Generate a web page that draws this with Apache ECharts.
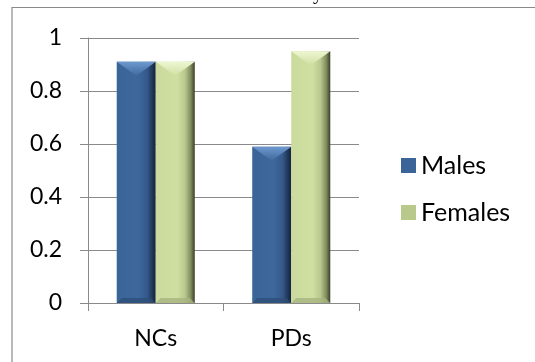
<!DOCTYPE html>
<html>
<head>
<meta charset="utf-8">
<script src="https://cdn.jsdelivr.net/npm/echarts@6/dist/echarts.min.js"></script>
<style>
  html, body { margin: 0; padding: 0; background: #ffffff; }
  #chart { width: 535px; height: 362px; }
</style>
</head>
<body>
<div id="chart"></div>
<script>
// Group labels and proportions per sex
const categories = ['NCs', 'PDs'];
const males = [0.91, 0.59];
const females = [0.91, 0.95];
const seriesNames = ['Males', 'Females'];

const FONT = 'Lato, "Open Sans", sans-serif';
const GRAY = '#8a8a8a';

// Bevelled bar look: horizontal body shading, light top facet, darker foot facet
const palettes = {
  Males: {
    body: [[0, '#3b6598'], [0.55, '#3e689b'], [0.78, '#34598a'], [0.9, '#223a5b'], [1, '#14233a']],
    top: ['#6e99cf', '#3f6a9e'],
    foot: '#2e4f78',
    legend: '#3b6598'
  },
  Females: {
    body: [[0, '#cbdb9d'], [0.55, '#cfdfa2'], [0.75, '#b9c88e'], [0.9, '#7f8b5d'], [1, '#383f26']],
    top: ['#eef7d2', '#cfdfa2'],
    foot: '#a6b47e',
    legend: '#b9c98c'
  }
};

function grad(stops) {
  return new echarts.graphic.LinearGradient(0, 0, 1, 0,
    stops.map(s => ({ offset: s[0], color: s[1] })));
}

function makeRender(name, slot) {
  const p = palettes[name];
  return function (params, api) {
    const ci = api.value(0);
    const v = api.value(1);
    const base = api.coord([ci, 0]);
    const top = api.coord([ci, v]);
    const band = api.size([1, 0])[0];
    const w = band * 0.288;
    const x = base[0] - w + slot * w;
    const y0 = top[1];
    const y1 = base[1];
    const h = y1 - y0;
    const tv = Math.min(14, h / 2);
    const fb = Math.min(5, h / 4);
    return {
      type: 'group',
      children: [
        { type: 'rect', shape: { x: x, y: y0, width: w, height: h },
          style: { fill: grad(p.body) } },
        { type: 'polygon',
          shape: { points: [[x, y0], [x + w, y0], [x + w * 0.5, y0 + tv]] },
          style: { fill: new echarts.graphic.LinearGradient(0, 0, 0, 1, [
            { offset: 0, color: p.top[0] }, { offset: 1, color: p.top[1] }]) } },
        { type: 'polygon',
          shape: { points: [[x, y1], [x + w, y1], [x + w - fb, y1 - fb], [x + fb, y1 - fb]] },
          style: { fill: p.foot, opacity: 0.8 } }
      ]
    };
  };
}

const option = {
  animation: false,
  backgroundColor: '#ffffff',
  textStyle: { fontFamily: FONT },
  grid: { left: 88, right: 176, top: 38, bottom: 59, containLabel: false },
  legend: {
    orient: 'vertical',
    left: 401,
    top: 153,
    padding: 0,
    itemWidth: 15,
    itemHeight: 15,
    itemGap: 22,
    icon: 'rect',
    textStyle: { fontFamily: FONT, fontSize: 25, lineHeight: 24, color: '#000000' },
    data: seriesNames.map(n => ({ name: n, itemStyle: { color: palettes[n].legend } }))
  },
  xAxis: {
    type: 'category',
    data: categories,
    boundaryGap: true,
    axisLine: { lineStyle: { color: GRAY, width: 1 } },
    axisTick: { show: true, length: 8, alignWithLabel: false, lineStyle: { color: GRAY } },
    axisLabel: { fontFamily: FONT, fontSize: 23, color: '#000000', margin: 24 }
  },
  yAxis: {
    type: 'value',
    min: 0,
    max: 1,
    interval: 0.2,
    axisLine: { show: true, lineStyle: { color: GRAY, width: 1 } },
    axisTick: { show: true, length: 8, lineStyle: { color: GRAY } },
    axisLabel: { fontFamily: FONT, fontSize: 23, color: '#000000', margin: 26 },
    splitLine: { show: true, lineStyle: { color: GRAY, width: 1 } }
  },
  graphic: [
    { type: 'rect', silent: true, z: -1,
      shape: { x: 12, y: 7.5, width: 600, height: 400 },
      style: { fill: null, stroke: '#8a8a8a', lineWidth: 1.2 } },
    { type: 'text', left: 313, top: -16, silent: true,
      style: { text: 'y', font: '20px "Liberation Serif", serif', fill: '#000000' } }
  ],
  series: [
    { name: 'Males', type: 'custom', renderItem: makeRender('Males', 0),
      itemStyle: { color: palettes.Males.legend },
      encode: { x: 0, y: 1 },
      data: males.map((v, i) => [i, v]) },
    { name: 'Females', type: 'custom', renderItem: makeRender('Females', 1),
      itemStyle: { color: palettes.Females.legend },
      encode: { x: 0, y: 1 },
      data: females.map((v, i) => [i, v]) }
  ]
};

const chart = echarts.init(document.getElementById('chart'), null, { renderer: 'canvas' });
chart.setOption(option);
</script>
</body>
</html>
